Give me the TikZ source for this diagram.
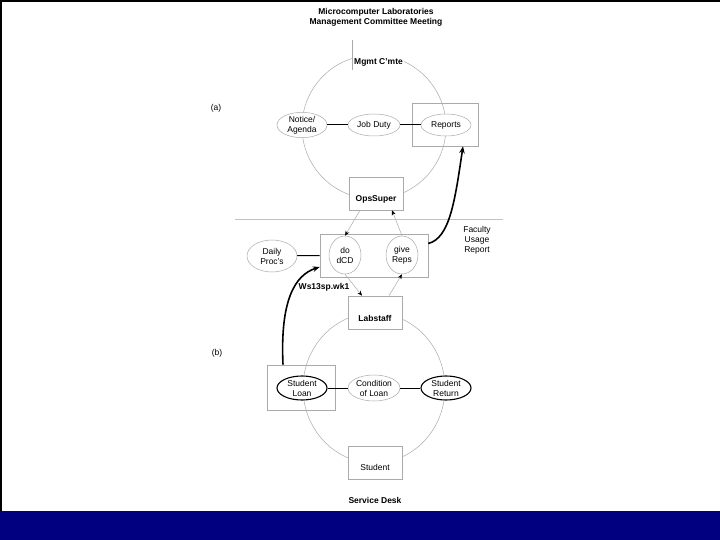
\documentclass[tikz,border=0pt]{standalone}
\usepackage{fontspec}
\setmainfont{Liberation Sans}
\usetikzlibrary{shapes.geometric,arrows.meta}
\definecolor{navyband}{RGB}{0,0,128}
\definecolor{lg}{RGB}{170,170,170}
\begin{document}
\begin{tikzpicture}[x=1pt,y=-1pt,
  every node/.style={font=\fontsize{8.5}{10}\selectfont, inner sep=0pt, align=center},
  lab/.style={font=\bfseries\fontsize{8.5}{10}\selectfont},
  ell/.style={ellipse, draw=lg, line width=0.5pt, fill=white, minimum width=50pt, minimum height=25pt},
  ellb/.style={ellipse, draw=black, line width=1.1pt, fill=white, minimum width=50pt, minimum height=25pt},
  fbox/.style={draw=lg, line width=0.6pt, fill=white, minimum width=54pt, minimum height=33pt},
  obox/.style={draw=lg, line width=0.6pt},
  link/.style={draw=black, line width=1pt},
  garrow/.style={draw=lg, line width=0.5pt, -{Stealth[color=black,length=5pt,width=4pt]}},
  bigarrow/.style={draw=black, line width=1.6pt, -{Stealth[length=7pt,width=5.5pt]}},
  cyc/.style={draw=lg, line width=0.5pt}
]
\useasboundingbox (0,0) rectangle (720,540);
\fill[white] (0,0) rectangle (720,540);
\fill[navyband] (0,511) rectangle (720,540);
\draw[black, line width=1.6pt] (0.8,511) -- (0.8,0.8) -- (720,0.8);

% titles
\node[lab] (title1) at (376,12) {Microcomputer Laboratories};
\node[lab] (title2) at (376,22) {Management Committee Meeting};
\node (la) at (216,108) {(a)};
\node (lb) at (217,353) {(b)};
\node[lab] (sdesk) at (375,500) {Service Desk};

% separator
\coordinate (sepL) at (235,219);
\coordinate (sepR) at (503,219);
\draw[draw=lg!70, line width=0.5pt] (sepL) -- (sepR);

% cycles (drawn first)
\draw[cyc] (374,127) circle[radius=72];
\draw[cyc] (374,388) ellipse[x radius=71, y radius=75];

% top cycle
\node[lab, anchor=west, fill=white, minimum height=15pt, inner xsep=1pt] (mgmt) at (353,62) {Mgmt C'mte};
\coordinate (vt) at (352,40);
\coordinate (vb) at (352,70);
\draw[cyc] (vt) -- (vb);

\node[obox, minimum width=66pt, minimum height=43pt] (rbox) at (445,124.5) {};
\node[ell] (notice) at (302,125) {Notice/\\Agenda};
\node[ell, minimum width=52pt, minimum height=22pt] (job) at (374,125) {Job Duty};
\node[ell, minimum height=22pt] (reports) at (446,125) {Reports};
\draw[link] (notice) -- (job);
\draw[link] (job) -- (reports);

\node[fbox] (ops) at (376,193.5) {};
\node[lab] (opsT) at (376,199) {OpsSuper};

% middle
\node[obox, minimum width=108pt, minimum height=43pt] (mid) at (374,255.5) {};
\node[ell, minimum width=50pt, minimum height=32pt] (daily) at (272,256) {Daily\\Proc's};
\node[ell, minimum width=32pt, minimum height=38pt] (do) at (345,255) {do\\dCD};
\node[ell, minimum width=32pt, minimum height=38pt] (give) at (402,255) {give\\Reps};
\draw[link] (daily) -- (mid.west);

\node[fbox] (lbox) at (375,312.5) {};
\node[lab] (lboxT) at (375,318) {Labstaff};

\draw[garrow] ([xshift=-16pt]ops.south) -- (do.north);
\draw[garrow] (give.north) -- ([xshift=16pt]ops.south);
\draw[garrow] (do.south) -- ([xshift=-13pt]lbox.north);
\draw[garrow] ([xshift=14pt]lbox.north) -- (give.south);

% bottom cycle
\node[obox, minimum width=68pt, minimum height=45pt] (slbox) at (301,387.5) {};
\node[ellb, minimum height=24pt] (sloan) at (302,388) {Student\\Loan};
\node[ell, minimum width=52pt, minimum height=26pt] (cond) at (374,388) {Condition\\of Loan};
\node[ellb, minimum height=24pt] (sret) at (446,388) {Student\\Return};
\draw[link] (sloan) -- (cond);
\draw[link] (cond) -- (sret);

\node[fbox] (stbox) at (375,462.5) {};
\node (stT) at (375,467) {Student};

% big arrows
\draw[bigarrow] ([yshift=12pt]mid.east) .. controls (450,238) and (455,200) .. ([xshift=18pt]rbox.south);
\node (fur) at (477,240) {Faculty\\Usage\\Report};
\draw[bigarrow] ([xshift=-18pt]slbox.north) .. controls (280,300) and (295,275) .. ([yshift=-11.5pt]mid.west);
\node[lab] (ws) at (324,287) {Ws13sp.wk1};
\end{tikzpicture}
\end{document}
